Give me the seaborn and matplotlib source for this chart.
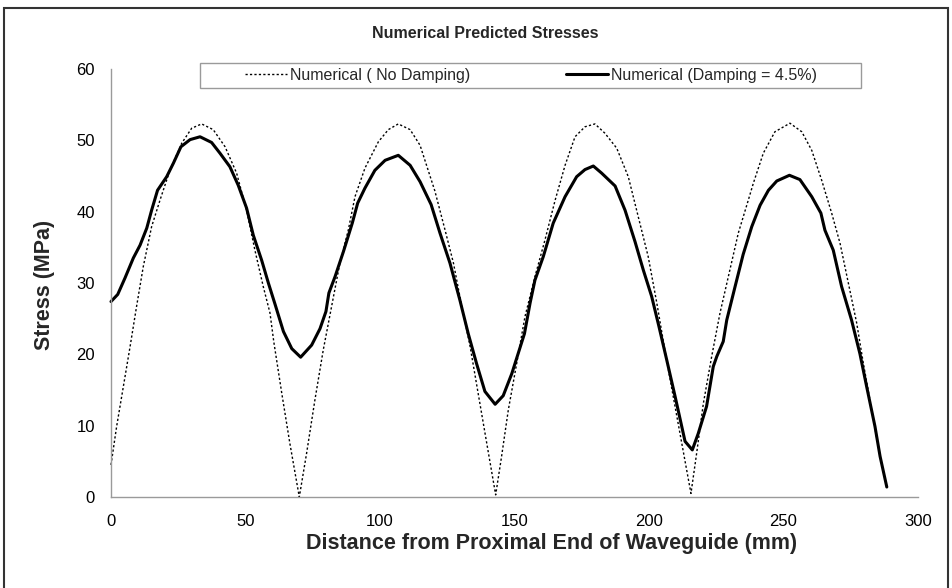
import matplotlib
matplotlib.use("Agg")
import matplotlib.pyplot as plt
import matplotlib.patches as mpatches
import seaborn as sns
import pandas as pd

# ---- data ----
damp_x = [0, 2.5, 5.2, 8.3, 10.8, 13.3, 15.1, 17.3, 20.7, 23.2, 26.0, 29.4, 33.1, 37.4, 40.5,
          44.2, 47.3, 50.4, 52.9, 56.0, 58.5, 61.0, 64.1, 67.2, 70.5, 74.6, 77.7, 79.9, 81.0,
          83.3, 86.4, 89.7, 91.7, 94.4, 98.1, 101.9, 106.8, 111.2, 114.9, 119.0, 122.3, 126.0,
          129.7, 132.8, 135.9, 139.0, 142.8, 145.8, 149.0, 153.7, 155.8, 157.6, 160.7, 164.4,
          168.8, 173.1, 176.2, 179.3, 182.4, 187.4, 191.1, 194.8, 197.9, 201.0, 203.7, 206.6,
          209.7, 213.4, 216.1, 218.3, 221.4, 223.9, 225.2, 227.6, 228.9, 232.0, 235.0, 238.2,
          241.3, 244.4, 247.5, 252.2, 256.1, 260.5, 263.9, 265.4, 268.5, 271.6, 275.3, 278.4,
          280.9, 284.0, 285.9, 288.4]
damp_y = [27.4, 28.4, 30.7, 33.5, 35.3, 37.7, 40.2, 43.0, 44.9, 46.8, 49.1, 50.1, 50.5, 49.7, 48.2,
          46.3, 43.7, 40.5, 36.7, 33.2, 30.0, 27.0, 23.2, 20.8, 19.6, 21.3, 23.6, 26.0, 28.6,
          30.9, 34.4, 38.4, 41.2, 43.3, 45.8, 47.2, 47.9, 46.5, 44.2, 41.0, 37.0, 32.8,
          27.6, 22.9, 18.7, 14.8, 13.0, 14.2, 17.3, 22.9, 27.2, 30.4, 33.7, 38.4,
          42.1, 44.9, 45.9, 46.4, 45.4, 43.6, 40.2, 35.8, 31.8, 28.1, 23.9, 19.2,
          14.1, 7.8, 6.6, 8.9, 12.7, 18.3, 19.7, 21.8, 24.8, 29.5, 34.0, 37.9,
          40.9, 43.0, 44.3, 45.1, 44.5, 42.1, 39.8, 37.4, 34.6, 29.5, 24.8, 20.1,
          15.5, 9.9, 5.7, 1.4]

nodamp_x = [0, 2.1, 4.6, 7.1, 9.5, 12.0, 15.1, 18.2, 21.9, 26.3, 30.0, 33.7, 38.0, 42.4, 46.7,
            50.4, 53.5, 56.6, 59.1, 60.5, 63.5, 66.5, 70.0, 72.7, 75.8, 78.9, 82.0, 85.1, 88.2,
            90.7, 94.4, 99.4, 103.1, 106.8, 111.2, 114.9, 116.7, 120.4, 124.2, 127.3, 129.7,
            133.5, 136.5, 139.7, 143.0, 145.2, 147.7, 150.8, 153.9, 157.6, 161.3, 165.1, 168.8,
            172.5, 176.2, 179.9, 183.6, 188.0, 192.3, 196.0, 199.7, 202.9, 205.9, 209.0, 212.2,
            215.6, 217.7, 220.2, 223.3, 226.4, 229.5, 233.2, 236.9, 238.8, 242.5, 246.8, 252.4,
            256.8, 260.5, 264.2, 267.9, 271.0, 274.1, 277.2, 279.7, 282.8, 285.5]
nodamp_y = [4.5, 9.9, 15.5, 21.1, 26.7, 32.3, 37.9, 41.6, 45.8, 49.6, 51.7, 52.3, 51.5, 49.1, 45.4,
            40.2, 34.6, 29.5, 25.8, 21.8, 14.5, 7.5, 0.0, 6.1, 13.6, 20.6, 26.7, 32.8, 37.4,
            42.1, 46.1, 49.8, 51.5, 52.3, 51.5, 49.3, 47.2, 42.9, 37.4, 32.8, 28.1,
            21.1, 14.5, 7.5, 0.3, 5.7, 12.2, 18.7, 25.3, 30.9, 36.0, 41.6, 46.5,
            50.5, 51.9, 52.3, 51.0, 48.9, 44.9, 39.3, 33.7, 27.2, 20.6, 14.1, 7.5,
            0.5, 6.1, 13.1, 19.7, 25.8, 30.9, 37.0, 41.6, 44.0, 48.2, 51.2, 52.4,
            51.2, 48.6, 44.4, 39.8, 35.6, 30.0, 24.4, 18.7, 12.2, 6.5]

x_ticks = [0, 50, 100, 150, 200, 250, 300]
y_ticks = [0, 10, 20, 30, 40, 50, 60]
label_nodamp = "Numerical ( No Damping)"
label_damp = "Numerical (Damping = 4.5%)"
title = "Numerical Predicted Stresses"
xlabel = "Distance from Proximal End of Waveguide (mm)"
ylabel = "Stress (MPa)"

# ---- style ----
sns.set_style("white")
plt.rcParams['font.family'] = ['Liberation Sans', 'DejaVu Sans']

W, H = 953, 588
fig = plt.figure(figsize=(W / 100, H / 100), dpi=100)
ax = fig.add_axes([111 / W, 1 - 497 / H, (918 - 111) / W, (497 - 69) / H])

df_nd = pd.DataFrame({"x": nodamp_x, "y": nodamp_y})
df_d = pd.DataFrame({"x": damp_x, "y": damp_y})

sns.lineplot(data=df_nd, x="x", y="y", ax=ax, color="black", linewidth=1.0,
             linestyle=(0, (1.6, 1.6)), label=label_nodamp, sort=False, clip_on=False)
sns.lineplot(data=df_d, x="x", y="y", ax=ax, color="black", linewidth=2.2,
             label=label_damp, sort=False, clip_on=False)

ax.set_xlim(0, 300)
ax.set_ylim(0, 60)
ax.set_xticks(x_ticks)
ax.set_yticks(y_ticks)
ax.set_xlabel("")
ax.set_ylabel("")
for s in ["top", "right"]:
    ax.spines[s].set_visible(False)
for s in ["left", "bottom"]:
    ax.spines[s].set_color("#9a9a9a")
    ax.spines[s].set_linewidth(1.0)
ax.tick_params(axis="both", which="major", direction="out", length=4.5, width=1.0,
               color="#9a9a9a", labelsize=12, labelcolor="black")
ax.tick_params(axis="x", pad=8)
ax.tick_params(axis="y", pad=7)

# legend box (decoration) + legend entries
handles, labels = ax.get_legend_handles_labels()
ax.get_legend().remove()
box = mpatches.Rectangle((200 / W, 1 - 88 / H), 661 / W, 25 / H, transform=fig.transFigure,
                         facecolor="white", edgecolor="#9a9a9a", linewidth=1.0, zorder=5)
fig.add_artist(box)
leg = fig.legend(handles, labels, loc="center", bbox_to_anchor=(531 / W, 1 - 75.5 / H),
                 bbox_transform=fig.transFigure, ncol=2, frameon=False,
                 fontsize=11.5, handlelength=2.6, handletextpad=0.2, columnspacing=6.0,
                 borderpad=0.1)
leg.set_zorder(6)

# texts
fig.text(485 / W, 1 - 34 / H, title, ha="center", va="center", fontsize=11.5,
         fontweight="bold")
fig.text(552 / W, 1 - 543 / H, xlabel, ha="center", va="center", fontsize=15.5,
         fontweight="bold")
fig.text(45 / W, 1 - 285 / H, ylabel, ha="center", va="center", fontsize=15.5,
         fontweight="bold", rotation=90)

# outer chart border
border = mpatches.Rectangle((4 / W, -0.05), (948 - 4) / W, 1 - 8 / H + 0.05,
                            transform=fig.transFigure, facecolor="none",
                            edgecolor="#333333", linewidth=1.5, zorder=10)
fig.add_artist(border)

fig.savefig("out.png", dpi=100)
